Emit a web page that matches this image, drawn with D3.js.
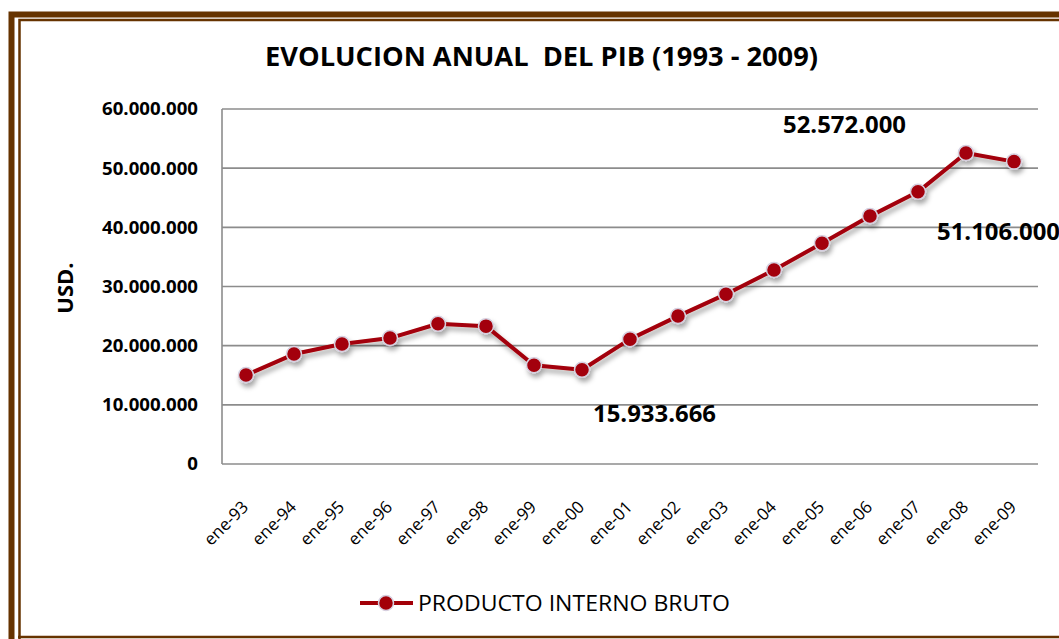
<!DOCTYPE html>
<html><head><meta charset="utf-8">
<script src="https://cdn.jsdelivr.net/npm/d3@7"></script>
<style>body{margin:0;background:#fff}svg{display:block}</style>
</head><body><svg id="c" width="1059" height="639"></svg>
<script>
const categories = ["ene-93","ene-94","ene-95","ene-96","ene-97","ene-98","ene-99","ene-00","ene-01","ene-02","ene-03","ene-04","ene-05","ene-06","ene-07","ene-08","ene-09"];
const values = [15030000,18580000,20270000,21280000,23700000,23300000,16700000,15933666,21100000,25000000,28700000,32800000,37300000,41900000,46000000,52572000,51106000];
const yTicks = [0,10000000,20000000,30000000,40000000,50000000,60000000];
const labeled = [{i:7,text:"15.933.666"},{i:15,text:"52.572.000"},{i:16,text:"51.106.000"}];
const seriesName = "PRODUCTO INTERNO BRUTO";
const title = "EVOLUCION ANUAL  DEL PIB (1993 - 2009)";

const svg = d3.select("#c");
const F = "'Open Sans', 'Noto Sans', sans-serif";
const brown = "#663300", red = "#a30008";

function stretch(sel, k){
  sel.each(function(){ const w=this.getComputedTextLength(); d3.select(this).attr("textLength",w*k).attr("lengthAdjust","spacingAndGlyphs"); });
}

// frame
svg.append("rect").attr("x",11.5).attr("y",14.5).attr("width",1100).attr("height",700).attr("fill","none").attr("stroke",brown).attr("stroke-width",6);
svg.append("path").attr("d","M19.5,639 V20 H1059").attr("fill","none").attr("stroke",brown).attr("stroke-width",2.5);
svg.append("line").attr("x1",18).attr("x2",1059).attr("y1",637).attr("y2",637).attr("stroke",brown).attr("stroke-width",2.5);

const defs = svg.append("defs");
const f = defs.append("filter").attr("id","sh").attr("x","-20%").attr("y","-20%").attr("width","140%").attr("height","160%");
f.append("feDropShadow").attr("dx",2).attr("dy",4).attr("stdDeviation",2.5).attr("flood-color","#000").attr("flood-opacity",0.35);

const L=222, R=1038, T=109, B=464;
const x = d3.scalePoint().domain(categories).range([L,R]).padding(0.5);
const y = d3.scaleLinear().domain([0,60000000]).range([B,T]);
const fmt = v => d3.format(",")(v).replace(/,/g,".");

// grid
svg.append("g").selectAll("line").data(yTicks.filter(d=>d>0)).join("line")
  .attr("x1",L).attr("x2",R).attr("y1",d=>y(d)).attr("y2",d=>y(d))
  .attr("stroke","#8c8c8c").attr("stroke-width",1.6);
svg.append("line").attr("x1",L).attr("x2",L).attr("y1",T).attr("y2",B).attr("stroke","#8c8c8c").attr("stroke-width",1.6);
svg.append("line").attr("x1",L).attr("x2",R).attr("y1",B).attr("y2",B).attr("stroke","#8c8c8c").attr("stroke-width",1.6);

// y axis labels
const ya = svg.append("g").attr("transform",`translate(198,0)`)
  .call(d3.axisLeft(y).tickValues(yTicks).tickFormat(fmt).tickSize(0).tickPadding(0));
ya.select(".domain").remove();
ya.selectAll("text").attr("font-family",F).attr("font-weight","bold").attr("font-size",17).attr("fill","#000").attr("dy","0.35em");
{ const t = ya.selectAll("text").filter(d=>d===60000000).node(); const k = 96/t.getComputedTextLength(); stretch(ya.selectAll("text"), k); }

// x axis labels
const xa = svg.append("g").attr("transform",`translate(0,${B})`)
  .call(d3.axisBottom(x).tickSize(0).tickPadding(0));
xa.select(".domain").remove();
xa.selectAll("text").attr("font-family",F).attr("font-size",17).attr("fill","#000")
  .attr("text-anchor","end").attr("dy",0).attr("y",0)
  .attr("transform","translate(3,44) rotate(-45)");

// axis title
svg.append("text").attr("transform","translate(73,288) rotate(-90)").attr("text-anchor","middle")
  .attr("font-family",F).attr("font-weight","bold").attr("font-size",22).text("USD.");

// title
svg.append("text").attr("x",541.5).attr("y",66).attr("text-anchor","middle")
  .attr("font-family",F).attr("font-weight","bold").attr("font-size",26).attr("xml:space","preserve")
  .attr("textLength",553).attr("lengthAdjust","spacingAndGlyphs").text(title);

// line
const line = d3.line().x((d,i)=>x(categories[i])).y(d=>y(d));
const g = svg.append("g").attr("filter","url(#sh)");
g.append("path").datum(values).attr("d",line).attr("fill","none").attr("stroke",red).attr("stroke-width",4).attr("stroke-linejoin","round");
g.selectAll("circle").data(values).join("circle")
  .attr("cx",(d,i)=>x(categories[i])).attr("cy",d=>y(d)).attr("r",7.5)
  .attr("fill",red).attr("stroke","#d6d0e0").attr("stroke-width",1.5);

// data labels
const off = {7:[72.5,52],15:[-121.5,-20],16:[-15.5,78]};
svg.selectAll(".dl").data(labeled).join("text").attr("class","dl")
  .attr("x",d=>x(categories[d.i])+off[d.i][0]).attr("y",d=>y(values[d.i])+off[d.i][1])
  .attr("text-anchor","middle").attr("font-family",F).attr("font-weight","bold").attr("font-size",22.5)
  .attr("textLength",123).attr("lengthAdjust","spacingAndGlyphs").text(d=>d.text);

// legend
const ly=603;
svg.append("line").attr("x1",360).attr("x2",413).attr("y1",ly).attr("y2",ly).attr("stroke",red).attr("stroke-width",4);
svg.append("circle").attr("cx",386).attr("cy",ly).attr("r",7.5).attr("fill",red).attr("stroke","#d6d0e0").attr("stroke-width",1.5);
svg.append("text").attr("x",418).attr("y",ly+7.5).attr("font-family",F).attr("font-size",21)
  .attr("textLength",312).attr("lengthAdjust","spacingAndGlyphs").text(seriesName);
</script></body></html>
